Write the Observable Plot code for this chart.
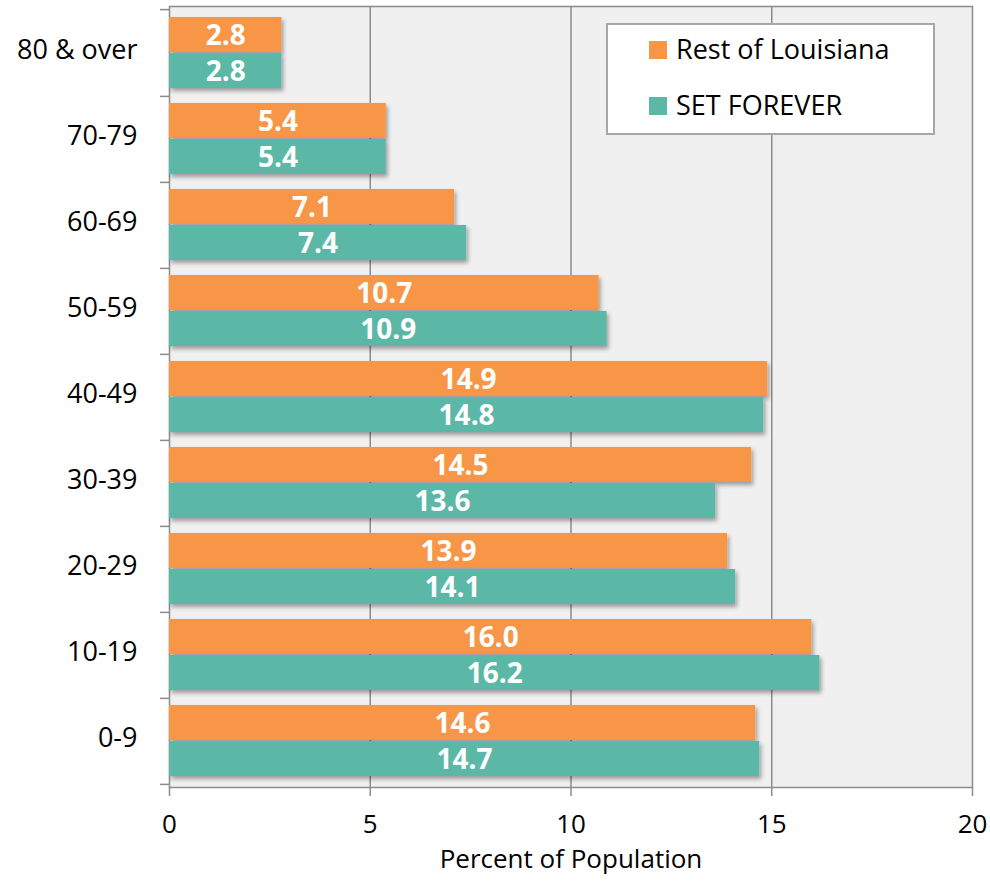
<!DOCTYPE html>
<html>
<head>
<meta charset="utf-8">
<script src="https://cdn.jsdelivr.net/npm/d3@7"></script>
<script src="https://cdn.jsdelivr.net/npm/@observablehq/plot@0.6"></script>
<style>
  body { margin: 0; background: white; }
  #wrap { position: relative; width: 990px; height: 883px; font-family: "Open Sans", Lato, sans-serif; }
  #legend { position: absolute; left: 606px; top: 23px; width: 325px; height: 108px; background: white; border: 2px solid #a6a6a6; }
  .item { position: absolute; left: 41px; font-size: 27px; line-height: 26px; color: #000; white-space: nowrap; }
  .sw { display: inline-block; width: 18px; height: 18px; margin-right: 9px; vertical-align: 0px; }
</style>
</head>
<body>
<div id="wrap">
  <div id="chart"></div>
  <div id="legend">
    <div class="item" style="top:11px"><span class="sw" style="background:#f79646"></span>Rest of Louisiana</div>
    <div class="item" style="top:67px"><span class="sw" style="background:#5bb8a6"></span>SET FOREVER</div>
  </div>
</div>
<script>
const ages = ["80 & over", "70-79", "60-69", "50-59", "40-49", "30-39", "20-29", "10-19", "0-9"];
const restOfLouisiana = [2.8, 5.4, 7.1, 10.7, 14.9, 14.5, 13.9, 16.0, 14.6];
const setForever = [2.8, 5.4, 7.4, 10.9, 14.8, 13.6, 14.1, 16.2, 14.7];
const xTicks = [0, 5, 10, 15, 20];
const xLabel = "Percent of Population";

const data = ages.map((a, i) => ({age: a, rest: restOfLouisiana[i], set: setForever[i]}));

const W = 990, H = 883, mL = 169, mR = 18, mT = 6, mB = 96;
const pIn = 0.17, pOut = 0.085;
const band = d3.scaleBand().domain(ages).range([mT, H - mB]).paddingInner(pIn).paddingOuter(pOut);
const bw = band.bandwidth();
const step = band.step();
const grid = "#8c8c8c";

const plot = Plot.plot({
  width: W, height: H,
  marginLeft: mL, marginRight: mR, marginTop: mT, marginBottom: mB,
  style: {fontFamily: "'Open Sans', Lato, sans-serif", fontSize: "26px", color: "#000", background: "white"},
  x: {domain: [0, 20], axis: null},
  y: {domain: ages, paddingInner: pIn, paddingOuter: pOut, axis: null},
  marks: [
    Plot.frame({fill: "#f0f0f0", stroke: grid, strokeWidth: 1.5}),
    Plot.ruleX(xTicks.slice(1, -1), {stroke: grid, strokeWidth: 1.5}),
    Plot.barX(data, {x: "rest", y: "age", fill: "#f79646", insetBottom: bw / 2}),
    Plot.barX(data, {x: "set", y: "age", fill: "#5bb8a6", insetTop: bw / 2}),
    Plot.text(data, {x: d => d.rest / 2, y: "age", text: d => d.rest.toFixed(1), dy: -bw / 4 + 1, fill: "white", fontWeight: "bold", fontSize: 28}),
    Plot.text(data, {x: d => d.set / 2, y: "age", text: d => d.set.toFixed(1), dy: bw / 4 + 1, fill: "white", fontWeight: "bold", fontSize: 28}),
    Plot.axisY({tickSize: 0, tickPadding: 32, label: null, dy: -3, fontSize: 27}),
    Plot.axisY({tickSize: 9, tickFormat: () => "", label: null, dy: step / 2, stroke: grid, strokeWidth: 1.5}),
    Plot.axisY([ages[0]], {tickSize: 9, tickFormat: () => "", label: null, dy: -step / 2, stroke: grid, strokeWidth: 1.5}),
    Plot.axisX({ticks: xTicks, tickSize: 9, tickFormat: () => "", label: null, stroke: grid, strokeWidth: 1.5}),
    Plot.axisX({ticks: xTicks, tickSize: 0, tickPadding: 27, label: null, fontSize: 26}),
    Plot.text([xLabel], {frameAnchor: "bottom", dy: 80, text: d => d, fontSize: 26})
  ]
});

// soft drop shadow under bars
const ns = "http://www.w3.org/2000/svg";
const defs = document.createElementNS(ns, "defs");
defs.innerHTML = '<filter id="shadow" x="-10%" y="-30%" width="130%" height="180%"><feDropShadow dx="2" dy="3" stdDeviation="2" flood-color="#000" flood-opacity="0.35"/></filter>';
plot.insertBefore(defs, plot.firstChild);
plot.querySelectorAll('g[aria-label="bar"]').forEach(g => g.setAttribute("filter", "url(#shadow)"));

document.getElementById("chart").appendChild(plot);
</script>
</body>
</html>
